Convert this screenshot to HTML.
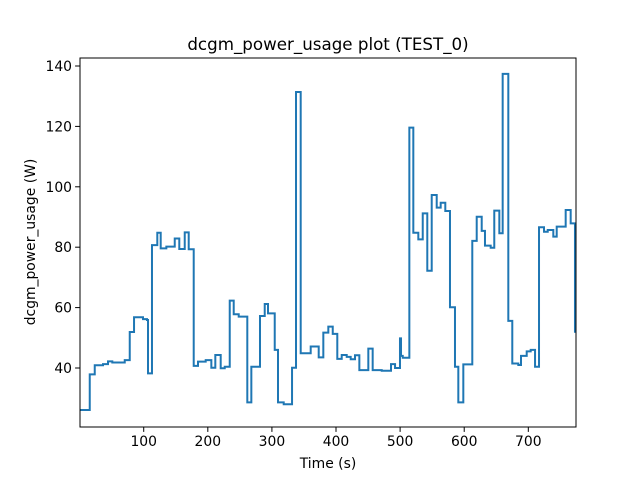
<!DOCTYPE html>
<html><head><meta charset="utf-8"><style>
html,body{margin:0;padding:0;background:#fff;}
svg{display:block;font-family:"DejaVu Sans","Liberation Sans",sans-serif;}
</style></head><body>
<svg id="chart" width="640" height="480" viewBox="0 0 640 480" xmlns="http://www.w3.org/2000/svg">
<rect width="640" height="480" fill="#fff"/>
<text x="328" y="50" font-size="16.7" text-anchor="middle" fill="#000">dcgm_power_usage plot (TEST_0)</text>
<text x="328" y="468" font-size="13.9" text-anchor="middle" fill="#000">Time (s)</text>
<text x="0" y="0" font-size="13.9" text-anchor="middle" fill="#000" transform="translate(35,242) rotate(-90)">dcgm_power_usage (W)</text>
<g id="ticks"></g>
<path id="series" fill="none" stroke="#1f77b4" stroke-width="2" stroke-linejoin="miter"/>
<rect x="80" y="58" width="496" height="369" fill="none" stroke="#000" stroke-width="1"/>
</svg>
<script>
const times = [0.6,15.8,23.6,36.5,44.3,51,70.4,78.2,84.9,98.9,105.1,106.7,112.9,121.2,126.5,135.3,148.4,155.5,164,170.2,178,184.7,196.7,205.5,211.7,220.1,226.4,234.2,240.4,248.2,261.6,267.9,281.4,288.8,293.9,304.4,309.5,318.4,331.4,337.6,344.9,360.5,373,380.2,388,394.9,402,408.9,416.7,422.9,429.6,436.4,450.4,457.2,471.3,485.8,492.1,499.8,501.4,504.1,514.4,520.6,528.4,535.3,542.4,549.3,557.1,563.3,570.5,577.8,585.6,590.8,598.6,612.6,619.5,627.3,632.4,641.3,646.9,654.8,660,668.8,675,684.4,688.6,697.5,703.7,710.5,716.7,724.5,730.3,739,744.3,758.3,766.1,772.8];
const values = [26.1,37.9,40.9,41.3,42.2,41.8,42.6,51.9,56.8,56.2,55.9,38.2,80.7,84.8,79.6,80.2,82.9,79.4,84.9,79.3,40.7,42.1,42.6,40.1,44.3,39.9,40.4,62.3,57.8,57.0,28.6,40.4,57.2,61.2,58.1,46.0,28.6,28.0,40.1,131.4,44.9,47.1,43.5,51.7,53.7,51.3,43.0,44.3,43.7,42.9,44.2,39.3,46.4,39.3,39.1,41.3,40.0,49.8,44.0,43.4,119.6,84.8,82.6,91.2,72.2,97.3,93.1,94.7,92.0,60.1,40.4,28.6,41.2,82.1,90.1,85.4,80.5,79.8,92.1,84.6,137.4,55.6,41.5,41.0,44.0,45.5,46.0,40.4,86.6,85.1,85.7,83.5,86.8,92.3,87.9,52.0];
const xTicks = [100,200,300,400,500,600,700];
const yTicks = [40,60,80,100,120,140];
const xMin=0.6,xMax=774.4,yMin=20.46,yMax=142.65;
const L=80,R=576,T=58,B=427;
const xs=v=>L+(v-xMin)/(xMax-xMin)*(R-L);
const ys=v=>B-(v-yMin)/(yMax-yMin)*(B-T);
const NS="http://www.w3.org/2000/svg";
const tg=document.getElementById('ticks');
xTicks.forEach(t=>{
  const l=document.createElementNS(NS,'line');
  
  
  l.setAttribute('x1',xs(t));l.setAttribute('x2',xs(t));l.setAttribute('y1',B);l.setAttribute('y2',B+4.9);l.setAttribute('stroke','#000');
  tg.appendChild(l);
  const tx=document.createElementNS(NS,'text');
  
  
  tx.setAttribute('x',xs(t));tx.setAttribute('y',B+19);tx.setAttribute('font-size','13.9');tx.setAttribute('text-anchor','middle');
  tx.textContent=t;tg.appendChild(tx);
});
yTicks.forEach(t=>{
  const l=document.createElementNS(NS,'line');
  
  
  l.setAttribute('x1',L-4.9);l.setAttribute('x2',L);l.setAttribute('y1',ys(t));l.setAttribute('y2',ys(t));l.setAttribute('stroke','#000');
  tg.appendChild(l);
  const tx=document.createElementNS(NS,'text');
  
  
  tx.setAttribute('x',L-8);tx.setAttribute('y',ys(t)+5);tx.setAttribute('font-size','13.9');tx.setAttribute('text-anchor','end');
  tx.textContent=t;tg.appendChild(tx);
});
let d='M'+xs(times[0])+','+ys(values[0]);
for(let i=1;i<times.length;i++){
  d+=' H'+xs(times[i])+' V'+ys(values[i]);
}
d+=' H'+xs(xMax);
document.getElementById('series').setAttribute('d',d);
</script>
</body></html>
